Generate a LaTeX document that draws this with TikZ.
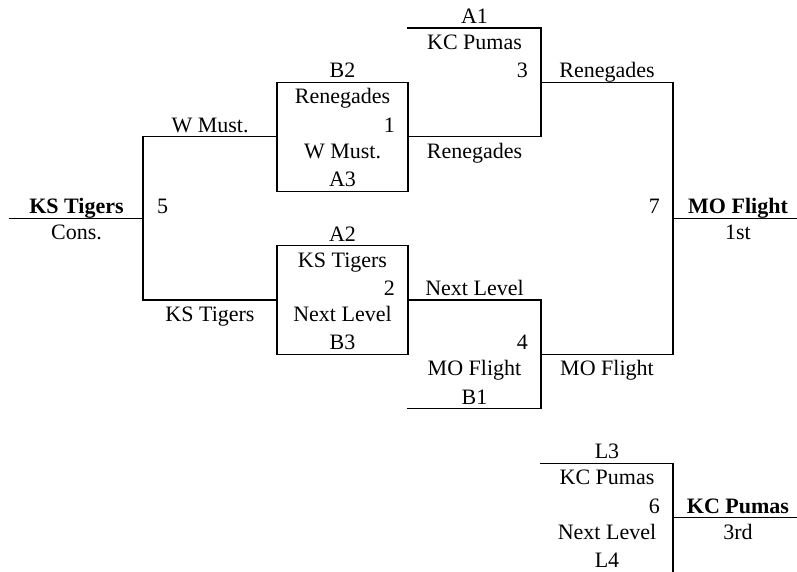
\documentclass[tikz,border=0pt]{standalone}
\usepackage{fontspec}
\setmainfont{Liberation Serif}
\begin{document}
\begin{tikzpicture}[x=1pt,y=-1pt,
  ln/.style={line width=1.1pt,line cap=rect},
  lbl/.style={anchor=base,inner sep=0pt,font=\fontsize{22}{26}\selectfont},
  num/.style={anchor=base east,inner sep=0pt,font=\fontsize{22}{26}\selectfont},
  numl/.style={anchor=base west,inner sep=0pt,font=\fontsize{22}{26}\selectfont},
  bld/.style={lbl,font=\fontsize{22}{26}\selectfont\bfseries}]
\useasboundingbox (0,0) rectangle (797,572);
% grid coordinates
\coordinate (c0m) at (10,218.4);
\coordinate (c1m) at (143,218.4);
\coordinate (c1r2) at (143,136.8);
\coordinate (c1r5) at (143,300);
\coordinate (c2r1) at (277,82.4);
\coordinate (c2r2) at (277,136.8);
\coordinate (c2r3) at (277,191.2);
\coordinate (c2r4) at (277,245.6);
\coordinate (c2r5) at (277,300);
\coordinate (c2r6) at (277,354.4);
\coordinate (c3r0) at (408,28);
\coordinate (c3r1) at (408,82.4);
\coordinate (c3r2) at (408,136.8);
\coordinate (c3r3) at (408,191.2);
\coordinate (c3r4) at (408,245.6);
\coordinate (c3r5) at (408,300);
\coordinate (c3r6) at (408,354.4);
\coordinate (c3r7) at (408,408.8);
\coordinate (c4r0) at (541,28);
\coordinate (c4r1) at (541,82.4);
\coordinate (c4r2) at (541,136.8);
\coordinate (c4r5) at (541,300);
\coordinate (c4r6) at (541,354.4);
\coordinate (c4r7) at (541,408.8);
\coordinate (c4r8) at (541,463.2);
\coordinate (c5r1) at (673,82.4);
\coordinate (c5m) at (673,218.4);
\coordinate (c5r6) at (673,354.4);
\coordinate (c5r8) at (673,463.2);
\coordinate (c5r9) at (673,517.6);
\coordinate (c5r10) at (673,574);
\coordinate (c6m) at (797,218.4);
\coordinate (c6r9) at (797,517.6);
% match 5 (consolation)
\draw[ln] (c0m) -- (c1m);
\draw[ln] (c2r2) -- (c1r2) -- (c1r5) -- (c2r5);
% match 1
\draw[ln] (c2r1) rectangle (c3r3);
\draw[ln] (c3r2) -- (c4r2);
% match 2
\draw[ln] (c2r4) rectangle (c3r6);
\draw[ln] (c3r5) -- (c4r5);
% match 3
\draw[ln] (c3r0) -- (c4r0) -- (c4r2);
\draw[ln] (c4r1) -- (c5r1);
% match 4
\draw[ln] (c4r5) -- (c4r7) -- (c3r7);
\draw[ln] (c4r6) -- (c5r6);
% match 7
\draw[ln] (c5r1) -- (c5r6);
\draw[ln] (c5m) -- (c6m);
% match 6
\draw[ln] (c4r8) -- (c5r8) -- (c5r10);
\draw[ln] (c5r9) -- (c6r9);
% labels column 1
\node[bld] (t1) at (76.5,213.9) {KS Tigers};
\node[lbl] (t2) at (76.5,239.9) {Cons.};
\node[numl] (t3) at (157,213.9) {5};
% column 2
\node[lbl] (t4) at (210,132.3) {W Must.};
\node[lbl] (t5) at (210,321.5) {KS Tigers};
% column 3
\node[lbl] (t6) at (342.5,77.9) {B2};
\node[lbl] (t7) at (342.5,103.9) {Renegades};
\node[num] (t8) at (395,132.3) {1};
\node[lbl] (t9) at (342.5,158.3) {W Must.};
\node[lbl] (t10) at (342.5,186.7) {A3};
\node[lbl] (t11) at (342.5,241.1) {A2};
\node[lbl] (t12) at (342.5,267.1) {KS Tigers};
\node[num] (t13) at (395,295.5) {2};
\node[lbl] (t14) at (342.5,321.5) {Next Level};
\node[lbl] (t15) at (342.5,349.9) {B3};
% column 4
\node[lbl] (t16) at (474.5,23.5) {A1};
\node[lbl] (t17) at (474.5,49.5) {KC Pumas};
\node[num] (t18) at (528,77.9) {3};
\node[lbl] (t19) at (474.5,158.3) {Renegades};
\node[lbl] (t20) at (474.5,295.5) {Next Level};
\node[num] (t21) at (528,349.9) {4};
\node[lbl] (t22) at (474.5,375.9) {MO Flight};
\node[lbl] (t23) at (474.5,404.3) {B1};
% column 5
\node[lbl] (t24) at (607,77.9) {Renegades};
\node[lbl] (t25) at (607,375.9) {MO Flight};
\node[num] (t26) at (660,213.9) {7};
\node[lbl] (t27) at (607,458.7) {L3};
\node[lbl] (t28) at (607,484.7) {KC Pumas};
\node[num] (t29) at (660,513.1) {6};
\node[lbl] (t30) at (607,539.1) {Next Level};
\node[lbl] (t31) at (607,567.5) {L4};
% column 6
\node[bld] (t32) at (738,213.9) {MO Flight};
\node[lbl] (t33) at (738,239.9) {1st};
\node[bld] (t34) at (738,513.1) {KC Pumas};
\node[lbl] (t35) at (738,539.1) {3rd};
\end{tikzpicture}
\end{document}
